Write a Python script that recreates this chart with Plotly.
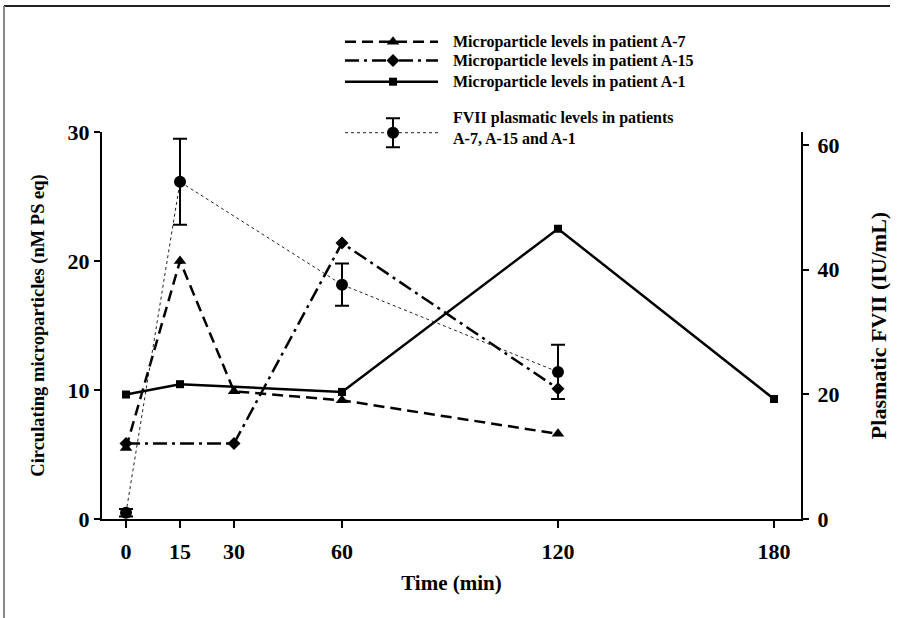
import plotly.graph_objects as go

# ---- data ----
a7_time = [0, 15, 30, 60, 120]
a7_vals = [5.5, 20.0, 9.9, 9.2, 6.6]
a15_time = [0, 30, 60, 120]
a15_vals = [5.85, 5.85, 21.4, 10.1]
a1_time = [0, 15, 60, 120, 180]
a1_vals = [9.65, 10.45, 9.85, 22.5, 9.3]
fvii_time = [0, 15, 60, 120]
fvii_vals = [1.0, 54.1, 37.6, 23.6]
fvii_err = [0.6, 6.9, 3.4, 4.35]

x_ticks = [0, 15, 30, 60, 120, 180]
y_left_ticks = [0, 10, 20, 30]
y_right_ticks = [0, 20, 40, 60]

legend_labels = [
    "Microparticle levels in patient A-7",
    "Microparticle levels in patient A-15",
    "Microparticle levels in patient A-1",
    "FVII plasmatic levels in patients<br>A-7, A-15 and A-1",
]

W, H = 901, 618
FONT = "Liberation Serif"
BLACK = "#000000"

DASH_A7 = "11px,6px"
DASH_A15 = "14px,5px,3px,5px"

# plot area in pixels
PX_L, PX_R, PX_T, PX_B = 102, 801, 132, 519

fig = go.Figure()

fig.add_trace(go.Scatter(x=a7_time, y=a7_vals, mode="lines+markers",
                         line=dict(color=BLACK, width=2.5, dash=DASH_A7),
                         marker=dict(symbol="triangle-up", size=11, color=BLACK),
                         name=legend_labels[0], showlegend=False))
fig.add_trace(go.Scatter(x=a15_time, y=a15_vals, mode="lines+markers",
                         line=dict(color=BLACK, width=2.5, dash=DASH_A15),
                         marker=dict(symbol="diamond", size=10, color=BLACK),
                         name=legend_labels[1], showlegend=False))
fig.add_trace(go.Scatter(x=a1_time, y=a1_vals, mode="lines+markers",
                         line=dict(color=BLACK, width=2.5),
                         marker=dict(symbol="square", size=8, color=BLACK),
                         name=legend_labels[2], showlegend=False))
fig.add_trace(go.Scatter(x=fvii_time, y=fvii_vals, mode="lines+markers",
                         yaxis="y2",
                         line=dict(color="#222222", width=1, dash="dot"),
                         marker=dict(symbol="circle", size=12, color=BLACK),
                         error_y=dict(type="data", array=fvii_err, visible=True,
                                      color=BLACK, thickness=2, width=7),
                         name=legend_labels[3], showlegend=False))

# ---- custom legend drawn on a pixel-scaled overlay axis ----
leg_rows = [41.7, 60.5, 81.7, 132.7]
leg_x0, leg_x1, leg_mx = 345, 438, 393
leg_styles = [
    dict(line=dict(color=BLACK, width=2.5, dash=DASH_A7),
         marker=dict(symbol="triangle-up", size=11, color=BLACK)),
    dict(line=dict(color=BLACK, width=2.5, dash=DASH_A15),
         marker=dict(symbol="diamond", size=10, color=BLACK)),
    dict(line=dict(color=BLACK, width=2.5),
         marker=dict(symbol="square", size=8, color=BLACK)),
    dict(line=dict(color="#222222", width=1, dash="dot"),
         marker=dict(symbol="circle", size=12, color=BLACK)),
]
for i, (yy, st) in enumerate(zip(leg_rows, leg_styles)):
    fig.add_trace(go.Scatter(x=[leg_x0, leg_x1], y=[yy, yy], mode="lines",
                             line=st["line"], xaxis="x3", yaxis="y3",
                             showlegend=False, hoverinfo="skip"))
    extra = {}
    if i == 3:
        extra["error_y"] = dict(type="data", array=[14.5], visible=True,
                                color=BLACK, thickness=2, width=7)
    fig.add_trace(go.Scatter(x=[leg_mx], y=[yy], mode="markers",
                             marker=st["marker"], xaxis="x3", yaxis="y3",
                             showlegend=False, hoverinfo="skip", **extra))

leg_font = dict(family=FONT, size=16, color=BLACK)
annotations = []
for i, yy in enumerate(leg_rows[:3]):
    annotations.append(dict(x=451, y=yy, xref="x3", yref="y3", text="<b>%s</b>" % legend_labels[i],
                            showarrow=False, xanchor="left", yanchor="middle",
                            font=leg_font))
annotations.append(dict(x=451, y=127.5, xref="x3", yref="y3", text="<b>%s</b>" % legend_labels[3],
                        showarrow=False, xanchor="left", yanchor="middle", align="left",
                        font=leg_font))

shapes = [
    dict(type="line", xref="x3", yref="y3", x0=4, x1=890, y0=6, y1=6,
         line=dict(color="#222222", width=2)),
    dict(type="line", xref="x3", yref="y3", x0=4, x1=4, y0=6, y1=618,
         line=dict(color="#888888", width=2)),
]

tick_font = dict(family=FONT, size=22, color=BLACK)

fig.update_layout(
    template="none",
    width=W, height=H,
    margin=dict(l=0, r=0, t=0, b=0, pad=0),
    paper_bgcolor="white", plot_bgcolor="rgba(0,0,0,0)",
    showlegend=False,
    xaxis=dict(domain=[PX_L / W, PX_R / W], range=[-6.67, 187.5], automargin=False,
               tickvals=x_ticks, ticktext=["<b>%d</b>" % v for v in x_ticks],
               showline=True, linecolor=BLACK, linewidth=2,
               ticks="outside", ticklen=7, tickwidth=2, tickcolor=BLACK,
               ticklabelstandoff=5,
               showgrid=False, zeroline=False, tickfont=tick_font,
               title=dict(text="<b>Time (min)</b>", font=dict(family=FONT, size=21, color=BLACK),
                          standoff=12),
               anchor="y"),
    yaxis=dict(domain=[1 - PX_B / H, 1 - PX_T / H], range=[0, 30], automargin=False,
               tickvals=y_left_ticks, ticktext=["<b>%d</b>" % v for v in y_left_ticks],
               showline=True, linecolor=BLACK, linewidth=2,
               ticks="outside", ticklen=6, tickwidth=2, tickcolor=BLACK,
               showgrid=False, zeroline=False, tickfont=tick_font,
               title=dict(text="<b>Circulating microparticles (nM PS eq)</b>", font=dict(family=FONT, size=18.5, color=BLACK),
                          standoff=18),
               anchor="x"),
    yaxis2=dict(domain=[1 - PX_B / H, 1 - PX_T / H], range=[0, 62.1], automargin=False,
                overlaying="y", side="right", anchor="x",
                tickvals=y_right_ticks, ticktext=["<b>%d</b>" % v for v in y_right_ticks],
                showline=True, linecolor=BLACK, linewidth=2,
                ticks="outside", ticklen=6, tickwidth=2, tickcolor=BLACK,
                ticklabelstandoff=4,
                showgrid=False, zeroline=False, tickfont=tick_font,
                title=dict(text="<b>Plasmatic FVII (IU/mL)</b>", font=dict(family=FONT, size=22, color=BLACK),
                           standoff=32)),
    xaxis3=dict(domain=[0, 1], range=[0, W], visible=False, anchor="y3",
                fixedrange=True, automargin=False),
    yaxis3=dict(domain=[0, 1], range=[H, 0], visible=False, anchor="x3",
                fixedrange=True, automargin=False),
    annotations=annotations,
    shapes=shapes,
)

fig.write_html("out.html")
